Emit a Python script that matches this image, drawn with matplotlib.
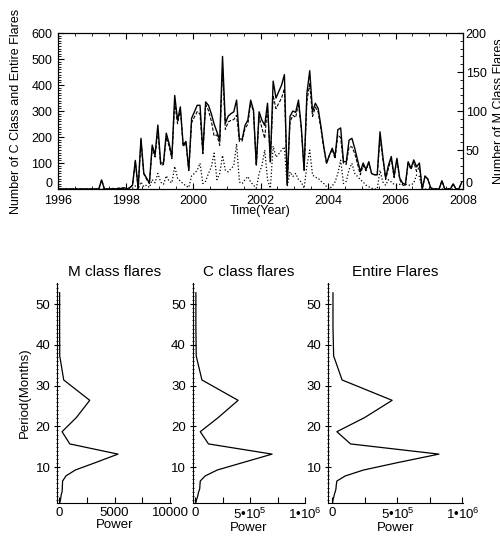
import numpy as np
import matplotlib
matplotlib.use('Agg')
import matplotlib.pyplot as plt
import matplotlib.transforms as mtransforms
from matplotlib.ticker import MultipleLocator, FixedLocator

plt.rcParams['font.family'] = ['Liberation Sans', 'DejaVu Sans']
plt.rcParams['mathtext.fontset'] = 'custom'
plt.rcParams['mathtext.rm'] = 'Liberation Sans'
plt.rcParams['mathtext.it'] = 'Liberation Sans:italic'

# monthly counts 1996-2007, one row per year
entire_flares = [
    0, 0, 0, 0, 0, 0, 0, 0, 0, 0, 0, 0,
    0, 0, 0, 35, 0, 0, 0, 2, 0, 3, 2, 5,
    0, 5, 15, 110, 2, 195, 61, 42, 23, 169, 131, 246,
    100, 100, 215, 175, 125, 360, 265, 316, 170, 183, 73, 272,
    297, 322, 322, 143, 335, 322, 290, 250, 220, 188, 510, 253,
    280, 290, 297, 342, 192, 192, 245, 265, 342, 303, 92, 297,
    265, 245, 330, 105, 415, 350, 375, 400, 440, 20, 280, 300,
    295, 342, 240, 73, 368, 455, 297, 330, 310, 240, 163, 100,
    130, 157, 125, 228, 235, 105, 105, 188, 195, 157, 112, 67,
    100, 75, 105, 60, 55, 55, 220, 125, 42, 92, 125, 50,
    118, 42, 23, 17, 105, 80, 112, 85, 100, 0, 50, 38,
    5, 0, 0, 0, 32, 0, 0, 0, 20, 0, 0, 25,
]
c_flares = [
    0, 0, 0, 0, 0, 0, 0, 0, 0, 0, 0, 0,
    0, 0, 0, 35, 0, 0, 0, 2, 0, 3, 2, 5,
    0, 5, 14, 106, 2, 186, 58, 37, 21, 157, 123, 226,
    91, 94, 198, 165, 117, 331, 251, 306, 163, 179, 71, 255,
    277, 298, 289, 136, 325, 302, 262, 204, 208, 168, 467, 229,
    258, 264, 267, 284, 183, 185, 233, 249, 333, 298, 91, 277,
    235, 195, 318, 104, 360, 309, 330, 350, 386, 17, 258, 284,
    275, 330, 231, 72, 338, 405, 279, 315, 296, 230, 156, 97,
    130, 153, 116, 208, 198, 98, 95, 163, 162, 137, 96, 55,
    91, 70, 102, 59, 55, 55, 196, 116, 37, 80, 116, 44,
    113, 36, 16, 11, 100, 75, 104, 67, 84, 0, 50, 38,
    5, 0, 0, 0, 32, 0, 0, 0, 20, 0, 0, 25,
]
m_flares = [
    0, 0, 0, 0, 0, 0, 0, 0, 0, 0, 0, 0,
    0, 0, 0, 0, 0, 0, 0, 0, 0, 0, 0, 0,
    0, 0, 1, 4, 0, 9, 3, 5, 2, 12, 8, 20,
    9, 6, 17, 10, 8, 29, 14, 10, 7, 4, 2, 17,
    20, 24, 33, 7, 10, 20, 28, 46, 12, 20, 43, 24,
    22, 26, 30, 58, 9, 7, 12, 16, 9, 5, 1, 20,
    30, 50, 12, 1, 55, 41, 45, 50, 54, 3, 22, 16,
    20, 12, 9, 1, 30, 50, 18, 15, 14, 10, 7, 3,
    0, 4, 9, 20, 37, 7, 10, 25, 33, 20, 16, 12,
    9, 5, 3, 1, 0, 0, 24, 9, 5, 12, 9, 6,
    5, 6, 7, 6, 5, 5, 8, 18, 16, 0, 0, 0,
    0, 0, 0, 0, 0, 0, 0, 0, 0, 0, 0, 0,
]

# global power spectra
periods = [52.8, 44.4, 37.3, 31.4, 26.4, 22.2, 18.7, 15.7, 13.2, 11.1, 9.3,
           7.85, 6.6, 5.55, 4.67, 3.92, 3.3, 2.77, 2.33, 1.96, 1.65, 1.39]
power_m = [30, 30, 40, 400, 2750, 1550, 250, 950, 5300, 3250, 1450,
           600, 300, 280, 270, 250, 180, 150, 130, 100, 80, 60]
power_c = [5e3, 5e3, 8e3, 6e4, 3.9e5, 2.1e5, 4.5e4, 1.2e5, 7.0e5, 4.3e5, 2.0e5,
           9e4, 4.5e4, 4.2e4, 4e4, 3e4, 2.5e4, 2e4, 1.5e4, 1e4, 8e3, 6e3]
power_e = [5e3, 5e3, 1e4, 7.5e4, 4.6e5, 2.5e5, 3.5e4, 1.4e5, 8.2e5, 5.0e5, 2.4e5,
           1e5, 3.5e4, 3e4, 2.8e4, 2.2e4, 1.5e4, 1.2e4, 8e3, 5e3, 4e3, 3e3]

months = 1996 + (np.arange(len(entire_flares)) + 0.5) / 12.0

fig = plt.figure(figsize=(5, 5.37), dpi=100)

# time series
ax = fig.add_axes([0.116, 0.648, 0.81, 0.2905])
ax.plot(months, entire_flares, 'k-', lw=1.0)
ax.plot(months, c_flares, 'k--', lw=0.8, dashes=(3, 1.5))
ax.set_xlim(1996, 2008)
ax.set_ylim(0, 600)
ax.xaxis.set_major_locator(MultipleLocator(2))
ax.xaxis.set_minor_locator(MultipleLocator(0.5))
ax.yaxis.set_major_locator(MultipleLocator(100))
ax.yaxis.set_minor_locator(MultipleLocator(10))
ax.tick_params(which='both', direction='in', top=True, labelsize=9)
ax.tick_params(axis='y', pad=4)
ax.tick_params(axis='x', pad=4)
ax.tick_params(which='major', length=4, width=0.8)
ax.tick_params(which='minor', length=2, width=0.6)
ax.set_xlabel('Time(Year)', fontsize=9, labelpad=-1)
ax.set_ylabel('Number of C Class and Entire Flares', fontsize=9, labelpad=7)

ax2 = ax.twinx()
ax2.plot(months, m_flares, 'k:', lw=0.9)
ax2.set_ylim(0, 200)
ax2.yaxis.set_major_locator(MultipleLocator(50))
ax2.yaxis.set_minor_locator(MultipleLocator(10))
ax2.tick_params(which='both', direction='in', labelsize=9, pad=2)
ax2.tick_params(which='major', length=4, width=0.8)
ax2.tick_params(which='minor', length=2, width=0.6)
fig.text(0.986, 0.7935, 'Number of M Class Flares', fontsize=9,
         rotation=90, ha='left', va='center')

# power spectra
panels = [
    ('M class flares', power_m, [0.1146, 0.2274], (-180, 10090), [0, 5000, 10000],
     ['0', '5000', '10000'], 2500),
    ('C class flares', power_c, [0.3854, 0.2246], (-2.4e4, 1.0e6), [0, 5e5, 1e6],
     ['0', '5•10$^5$', '1•10$^6$'], 2.5e5),
    ('Entire Flares', power_e, [0.6566, 0.2694], (-3.1e4, 1.005e6), [0, 5e5, 1e6],
     ['0', '5•10$^5$', '1•10$^6$'], 2.5e5),
]
for i, (title, pw, (left, width), xlim, ticks, labels, minor) in enumerate(panels):
    a = fig.add_axes([left, 0.0633, width, 0.4097])
    a.plot(pw, periods, 'k-', lw=0.9)
    a.set_xlim(*xlim)
    a.set_ylim(1.2, 55.2)
    a.spines['top'].set_visible(False)
    a.spines['right'].set_visible(False)
    a.xaxis.set_major_locator(FixedLocator(ticks))
    a.set_xticklabels(labels)
    a.xaxis.set_minor_locator(MultipleLocator(minor))
    a.yaxis.set_major_locator(MultipleLocator(10))
    a.yaxis.set_minor_locator(MultipleLocator(1))
    a.tick_params(axis='x', which='both', direction='in', length=4, width=0.8,
                  labelsize=9.5, pad=3)
    a.tick_params(axis='y', which='major', direction='inout', length=4,
                  width=0.8, labelsize=9.5, pad=3)
    a.tick_params(axis='y', which='minor', direction='inout', length=2, width=0.6)
    a.set_title(title, fontsize=11, pad=5)
    a.set_xlabel('Power', fontsize=9.5, labelpad=0)
    if i == 0:
        a.set_ylabel('Period(Months)', fontsize=9.5, labelpad=3)

# lift the zero labels of the time series off the bottom axis
fig.canvas.draw()
lift = mtransforms.ScaledTranslation(0, 5 / 72.0, fig.dpi_scale_trans)
for axis_obj in (ax.yaxis, ax2.yaxis):
    for tk in axis_obj.get_major_ticks():
        if abs(tk.get_loc()) < 1e-9:
            for lab in (tk.label1, tk.label2):
                lab.set_transform(lab.get_transform() + lift)

fig.savefig('out.png', dpi=100)
